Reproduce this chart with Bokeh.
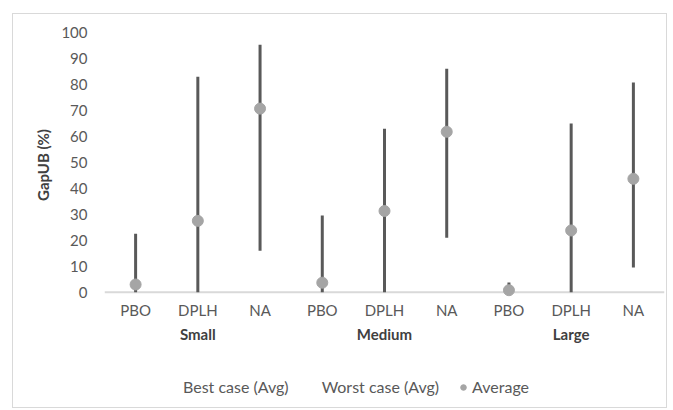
from bokeh.plotting import figure
from bokeh.layouts import column
from bokeh.models import FactorRange, Range1d, Span, Legend, LegendItem, FixedTicker, ColumnDataSource
from bokeh.embed import file_html
from bokeh.resources import INLINE

sizes = ["Small", "Medium", "Large"]
methods = ["PBO", "DPLH", "NA"]
best_case = [0, 0, 16, 0, 0, 21, 0, 0, 9.5]
worst_case = [22.5, 83, 95.3, 29.6, 63, 86, 3.8, 65, 80.8]
average = [3, 27.5, 70.7, 3.7, 31.3, 61.8, 0.8, 23.8, 43.7]
y_ticks = list(range(0, 101, 10))
series_names = ["Best case (Avg)", "Worst case (Avg)", "Average"]

factors = [(s, m) for s in sizes for m in methods]
src = ColumnDataSource(dict(x=factors, best=best_case, worst=worst_case, avg=average))

FONT = "Lato"
TXT = "#595959"
DOT = "#a5a5a5"

xr = FactorRange(*factors, range_padding=0, group_padding=0, factor_padding=0)
p = figure(x_range=xr, y_range=(-2, 100), width=653, height=334,
           output_backend="svg", toolbar_location=None,
           min_border_left=91, min_border_right=2, min_border_top=18, min_border_bottom=51)
p.outline_line_color = None
p.xgrid.visible = False
p.ygrid.visible = False

p.add_layout(Span(location=0, dimension="width", line_color="#d9d9d9", line_width=2, level="underlay"))

p.segment(x0="x", y0="best", x1="x", y1="worst", source=src, line_color="#595959", line_width=3)
p.scatter("x", "avg", source=src, size=11, fill_color=DOT, line_color=DOT)

yax = p.yaxis[0]
yax.ticker = FixedTicker(ticks=y_ticks)
yax.axis_line_color = None
yax.major_tick_line_color = None
yax.major_tick_out = 0
yax.minor_tick_line_color = None
yax.minor_tick_out = 0
yax.major_label_standoff = 17
yax.major_label_text_font = FONT
yax.major_label_text_font_size = "15px"
yax.major_label_text_color = TXT
yax.axis_label = "GapUB (%)"
yax.axis_label_text_font = FONT
yax.axis_label_text_font_size = "15px"
yax.axis_label_text_font_style = "bold"
yax.axis_label_text_color = "#404040"
yax.axis_label_standoff = 6

xax = p.xaxis[0]
xax.axis_line_color = None
xax.major_tick_line_color = None
xax.major_tick_out = 0
xax.minor_tick_line_color = None
xax.minor_tick_out = 0
xax.separator_line_alpha = 0
xax.major_label_standoff = 3
xax.major_label_text_font = FONT
xax.major_label_text_font_size = "15px"
xax.major_label_text_line_height = 1.6
xax.major_label_text_color = TXT
xax.group_text_font = FONT
xax.group_text_font_size = "15px"
xax.group_text_font_style = "bold"
xax.group_text_color = "#404040"

# legend strip below the chart
q = figure(x_range=xr, y_range=Range1d(-2, 100), width=653, height=59,
           x_axis_type=None, y_axis_type=None,
           output_backend="svg", toolbar_location=None, min_border=0)
q.outline_line_color = None
q.xgrid.visible = False
q.ygrid.visible = False
r_best = q.line("x", "best", source=src, line_alpha=0)
r_worst = q.line("x", "worst", source=src, line_alpha=0)
r_avg = q.scatter("x", "avg", source=src, size=11, fill_color=DOT, line_color=DOT, visible=False)

legend = Legend(items=[LegendItem(label=series_names[0], renderers=[r_best]),
                       LegendItem(label=series_names[1], renderers=[r_worst]),
                       LegendItem(label=series_names[2], renderers=[r_avg])],
                location=(63, 11), orientation="horizontal",
                padding=0, margin=0, spacing=17, glyph_width=14, glyph_height=14,
                label_standoff=2, label_text_font=FONT, label_text_font_size="16px",
                label_text_color=TXT, border_line_alpha=0, background_fill_alpha=0,
                inactive_fill_alpha=0)
q.add_layout(legend)

layout = column(p, q, spacing=0)
layout.margin = (13, 0, 0, 12)
layout.styles = {"border": "1px solid #d9d9d9"}

open("out.html", "w").write(file_html(layout, INLINE))
